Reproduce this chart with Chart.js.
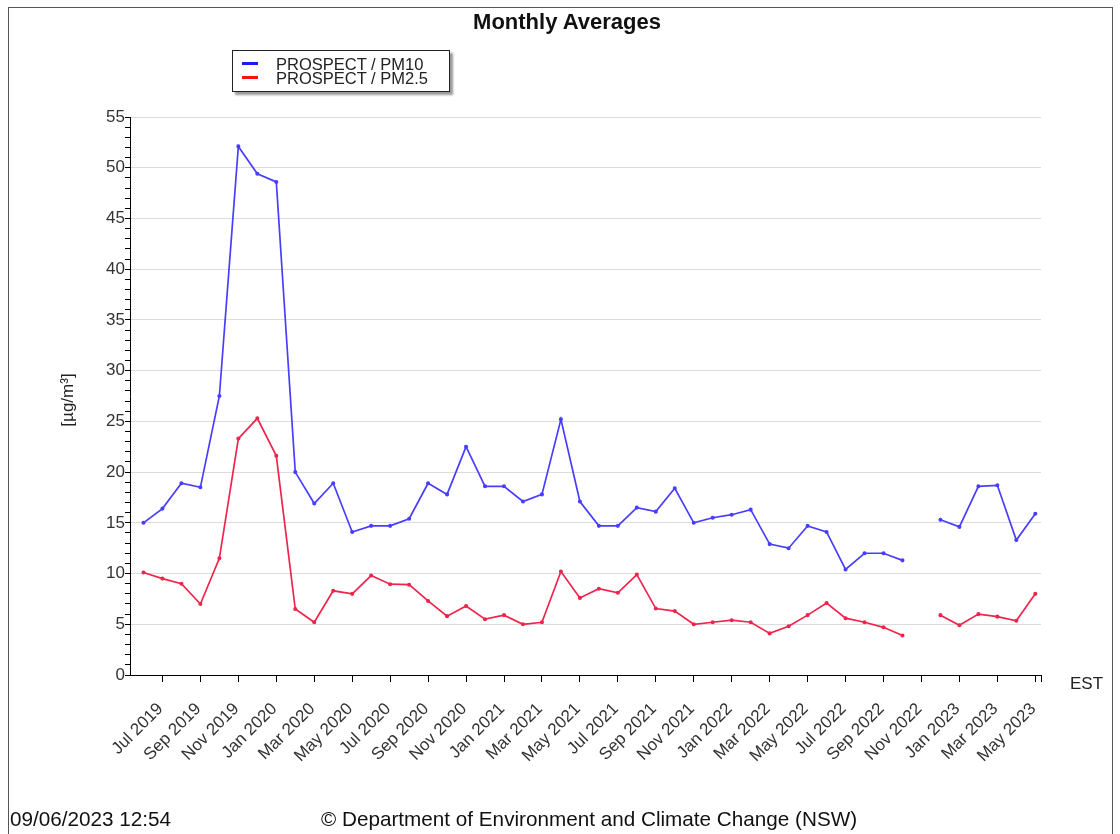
<!DOCTYPE html>
<html>
<head>
<meta charset="utf-8">
<title>Monthly Averages</title>
<script src="https://cdn.jsdelivr.net/npm/chart.js@4/dist/chart.umd.min.js"></script>
<style>
    body { margin: 0; background: #fff; overflow: hidden; font-family: "Liberation Sans", Arial, sans-serif; }
    #wrap { position: relative; width: 1120px; height: 834px; overflow: hidden; }
    #chart { position: absolute; left: 0; top: 0; }
    .frame { position: absolute; left: 8px; top: 7px; width: 1103px; height: 900px; border: 1px solid #555; }
    .title { position: absolute; left: 0; width: 1134px; top: 9px; text-align: center; font-weight: bold; font-size: 22px; color: #111; }
    .legend { position: absolute; left: 232px; top: 50px; width: 216px; height: 40px; border: 1px solid #222; background: #fff; box-shadow: 3px 3px 2px #999; font-size: 16.5px; color: #222; }
    .legend div { position: absolute; left: 43px; line-height: 16px; }
    .legend span { position: absolute; left: -34px; top: 6px; width: 16px; height: 3px; }
    .ytitle { position: absolute; left: 68px; top: 400px; transform: translate(-50%, -50%) rotate(-90deg); font-size: 17px; color: #222; white-space: nowrap; }
    .est { position: absolute; left: 1070px; top: 674px; font-size: 17px; color: #222; }
    .foot { position: absolute; top: 807px; font-size: 20.7px; color: #111; white-space: nowrap; }
</style>
</head>
<body>
<div id="wrap">
    <canvas id="chart" width="1120" height="834"></canvas>
    <div class="frame"></div>
    <div class="title">Monthly Averages</div>
    <div class="legend">
        <div style="top:5px"><span style="background:#1a1aff"></span>PROSPECT / PM10</div>
        <div style="top:19px"><span style="background:#ff1010"></span>PROSPECT / PM2.5</div>
    </div>
    <div class="ytitle">[µg/m³]</div>
    <div class="est">EST</div>
    <div class="foot" style="left:10px">09/06/2023 12:54</div>
    <div class="foot" style="left:321px">© Department of Environment and Climate Change (NSW)</div>
</div>
<script>
const months = [
    "Jun 2019", "Jul 2019", "Aug 2019", "Sep 2019", "Oct 2019", "Nov 2019", "Dec 2019",
    "Jan 2020", "Feb 2020", "Mar 2020", "Apr 2020", "May 2020", "Jun 2020", "Jul 2020",
    "Aug 2020", "Sep 2020", "Oct 2020", "Nov 2020", "Dec 2020", "Jan 2021", "Feb 2021",
    "Mar 2021", "Apr 2021", "May 2021", "Jun 2021", "Jul 2021", "Aug 2021", "Sep 2021",
    "Oct 2021", "Nov 2021", "Dec 2021", "Jan 2022", "Feb 2022", "Mar 2022", "Apr 2022",
    "May 2022", "Jun 2022", "Jul 2022", "Aug 2022", "Sep 2022", "Oct 2022", "Nov 2022",
    "Dec 2022", "Jan 2023", "Feb 2023", "Mar 2023", "Apr 2023", "May 2023",
]

// PROSPECT PM10 monthly averages (µg/m³), null = no data
const pm10 = [
    15.0, 16.4, 18.9, 18.5, 27.5, 52.1, 49.4, 48.6, 20.0, 16.9, 18.9, 14.1,
    14.7, 14.7, 15.4, 18.9, 17.8, 22.5, 18.6, 18.6, 17.1, 17.8, 25.2, 17.1,
    14.7, 14.7, 16.5, 16.1, 18.4, 15.0, 15.5, 15.8, 16.3, 12.9, 12.5, 14.7,
    14.1, 10.4, 12.0, 12.0, 11.3, null, 15.3, 14.6, 18.6, 18.7, 13.3, 15.9,
]

// PROSPECT PM2.5 monthly averages (µg/m³)
const pm25 = [
    10.1, 9.5, 9.0, 7.0, 11.5, 23.3, 25.3, 21.6, 6.5, 5.2, 8.3, 8.0,
    9.8, 8.95, 8.9, 7.3, 5.8, 6.8, 5.5, 5.9, 5.0, 5.2, 10.2, 7.6,
    8.5, 8.1, 9.9, 6.55, 6.3, 5.0, 5.2, 5.4, 5.2, 4.1, 4.8, 5.9,
    7.1, 5.6, 5.2, 4.7, 3.9, null, 5.9, 4.9, 6.0, 5.75, 5.35, 8.0,
]

const yTicks = [0, 5, 10, 15, 20, 25, 30, 35, 40, 45, 50, 55]

const toPoints = (values) => values.map((v, i) => ({ x: i, y: v }))

const tickFont = { family: "'Liberation Sans', Arial, sans-serif", size: 17 }

new Chart(document.getElementById("chart"), {
    type: "line",
    data: {
        datasets: [
            {
                label: "PROSPECT / PM10",
                data: toPoints(pm10),
                borderColor: "rgb(72, 62, 255)",
                backgroundColor: "rgb(72, 62, 255)",
                borderWidth: 1.7,
                pointRadius: 1.2,
                spanGaps: false,
                tension: 0,
            },
            {
                label: "PROSPECT / PM2.5",
                data: toPoints(pm25),
                borderColor: "rgb(240, 36, 76)",
                backgroundColor: "rgb(240, 36, 76)",
                borderWidth: 1.7,
                pointRadius: 1.2,
                spanGaps: false,
                tension: 0,
            },
        ],
    },
    options: {
        responsive: false,
        animation: false,
        layout: {
            padding: { top: 117, left: 0, right: 79, bottom: 0 },
        },
        plugins: {
            legend: { display: false },
            title: { display: false },
            tooltip: { enabled: false },
        },
        scales: {
            x: {
                type: "linear",
                min: -0.71,
                max: 47.3,
                afterBuildTicks: (scale) => {
                    const ticks = months.map((m, i) => ({ value: i })).filter((t) => t.value % 2 === 1)
                    ticks.push({ value: 47.3 })
                    scale.ticks = ticks
                },
                afterFit: (scale) => {
                    scale.height = 159
                },
                ticks: {
                    autoSkip: false,
                    minRotation: 45,
                    maxRotation: 45,
                    padding: 17,
                    labelOffset: -2,
                    color: "#333",
                    font: tickFont,
                    callback: (value) => months[value] || "",
                },
                grid: {
                    drawOnChartArea: false,
                    tickLength: 7,
                    tickColor: "#000",
                },
                border: { color: "#000", width: 1 },
            },
            y: {
                min: 0,
                max: 55,
                afterBuildTicks: (scale) => {
                    const ticks = []
                    for (let v = 0; v <= 55; v++) ticks.push({ value: v })
                    scale.ticks = ticks
                },
                afterFit: (scale) => {
                    scale.width = 130
                },
                ticks: {
                    autoSkip: false,
                    padding: 0,
                    color: "#333",
                    font: tickFont,
                    callback: (value) => (yTicks.includes(value) ? String(value) : ""),
                },
                grid: {
                    color: (ctx) => (ctx.tick && ctx.tick.value % 5 === 0 ? "#dcdcdc" : "rgba(0,0,0,0)"),
                    tickColor: "#000",
                    tickLength: 5,
                },
                border: { color: "#000", width: 1 },
            },
        },
    },
})
</script>
</body>
</html>
